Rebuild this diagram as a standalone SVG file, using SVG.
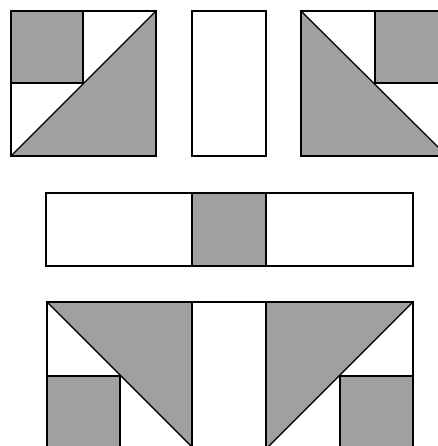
<svg xmlns="http://www.w3.org/2000/svg" width="438" height="446" viewBox="0 0 438 446">
<style>
.g{fill:#a0a0a0}
.w{fill:#ffffff}
.s{stroke:#000;stroke-width:2;stroke-linejoin:miter}
.d{stroke:#000;stroke-width:1.5;fill:none}
</style>
<rect width="438" height="446" fill="#fff"/>
<g id="block-top-left">
<rect class="w s" x="11" y="11" width="145" height="145"/>
<polygon class="g" points="11,156 156,11 156,156"/>
<rect class="g s" x="11" y="11" width="72" height="72"/>
<line class="d" x1="11" y1="156" x2="156" y2="11"/>
<rect x="11" y="11" width="145" height="145" fill="none" stroke="#000" stroke-width="2"/>
</g>
<g id="block-top-middle">
<rect class="w s" x="192" y="11" width="74" height="145"/>
</g>
<g id="block-top-right">
<rect class="w s" x="301" y="11" width="146" height="145"/>
<polygon class="g" points="301,11 447,156 301,156"/>
<rect class="g s" x="375" y="11" width="72" height="72"/>
<line class="d" x1="301" y1="11" x2="447" y2="156"/>
<rect x="301" y="11" width="146" height="145" fill="none" stroke="#000" stroke-width="2"/>
</g>
<g id="block-middle-row">
<rect class="w s" x="46" y="193" width="367" height="73"/>
<rect class="g s" x="192" y="193" width="74" height="73"/>
</g>
<g id="block-bottom">
<rect class="w s" x="47" y="302" width="366" height="150"/>
<polygon class="g" points="47,302 192,302 192,447"/>
<polygon class="g" points="266,302 413,302 266,449"/>
<rect class="g s" x="47" y="376" width="73" height="80"/>
<rect class="g s" x="340" y="376" width="73" height="80"/>
<line class="d" x1="47" y1="302" x2="192" y2="447"/>
<line class="d" x1="413" y1="302" x2="266" y2="449"/>
<line class="s" x1="192" y1="302" x2="192" y2="450"/>
<line class="s" x1="266" y1="302" x2="266" y2="450"/>
<rect x="47" y="302" width="366" height="150" fill="none" stroke="#000" stroke-width="2"/>
</g>
</svg>
